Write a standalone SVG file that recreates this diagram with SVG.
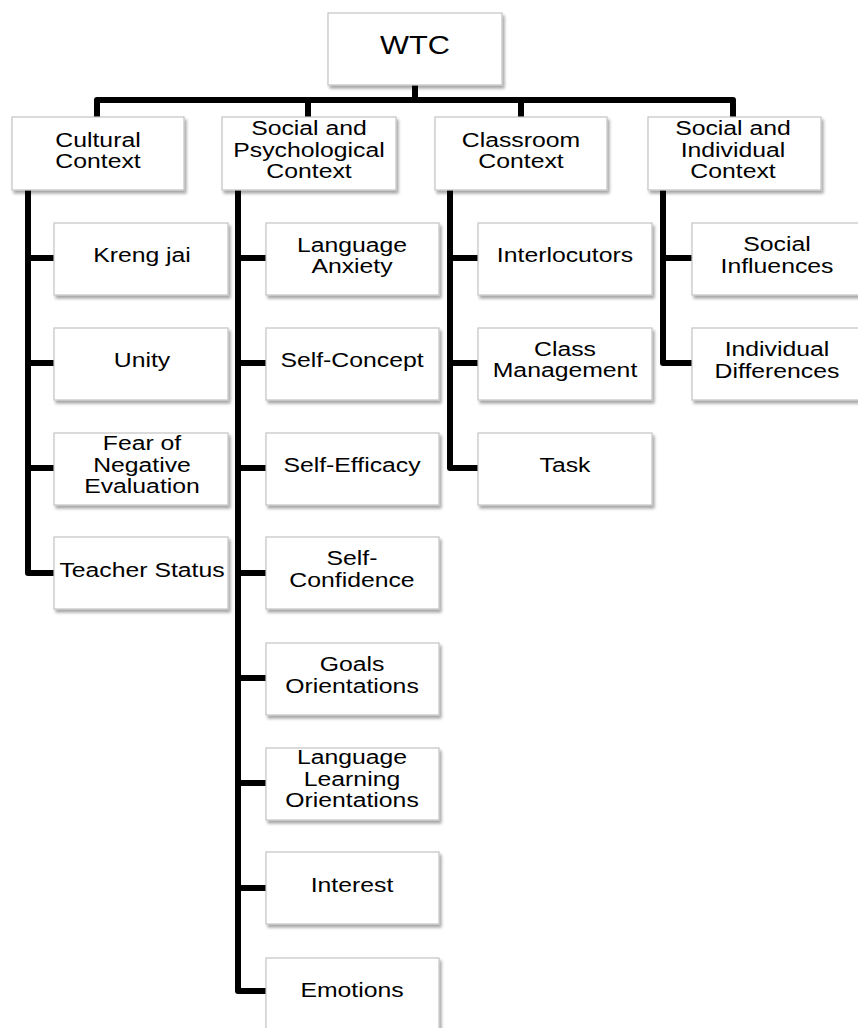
<svg xmlns="http://www.w3.org/2000/svg" width="858" height="1028" viewBox="0 0 858 1028">
<style>
.box{fill:#fff;stroke:#c4c4c4;stroke-width:1.2;filter:url(#sh)}
.t{font-family:"Liberation Sans",Arial,sans-serif;font-size:21px;fill:#000;text-anchor:middle}
.big{font-size:26.5px}
.ln{fill:none;stroke:#000;stroke-width:6;stroke-linejoin:round;stroke-linecap:butt}
</style>
<defs>
<filter id="sh" x="-10%" y="-10%" width="125%" height="135%">
<feDropShadow dx="2" dy="3" stdDeviation="1.8" flood-color="#000" flood-opacity="0.35"/>
</filter>
</defs>
<rect width="858" height="1028" fill="#fff"/>
<g id="connectors">
<path class="ln" d="M415,85 V100 M97,117 V100 H733 V117 M308,100 V117 M521,100 V117"/>
<path class="ln" d="M28,190 V573 H54 M28,258 H54 M28,363 H54 M28,468 H54"/>
<path class="ln" d="M238,190 V991 H266 M238,258 H266 M238,363 H266 M238,468 H266 M238,573 H266 M238,678 H266 M238,783 H266 M238,888 H266"/>
<path class="ln" d="M450,190 V468 H478 M450,258 H478 M450,363 H478"/>
<path class="ln" d="M663,190 V363 H692 M663,258 H692"/>
</g>
<g id="wtc"><rect class="box" x="328" y="13" width="174" height="72"/><text class="t big" transform="translate(415,0) scale(1.16,1)"><tspan x="0" y="54">WTC</tspan></text></g>
<g id="cultural"><rect class="box" x="12" y="117" width="172" height="73"/><text class="t" transform="translate(98,0) scale(1.18,1)"><tspan x="0" y="147">Cultural</tspan><tspan x="0" y="168">Context</tspan></text></g>
<g id="socpsy"><rect class="box" x="222" y="117" width="174" height="73"/><text class="t" transform="translate(309,0) scale(1.18,1)"><tspan x="0" y="135">Social and</tspan><tspan x="0" y="157">Psychological</tspan><tspan x="0" y="178">Context</tspan></text></g>
<g id="classroom"><rect class="box" x="435" y="117" width="172" height="73"/><text class="t" transform="translate(521,0) scale(1.18,1)"><tspan x="0" y="147">Classroom</tspan><tspan x="0" y="168">Context</tspan></text></g>
<g id="socind"><rect class="box" x="648" y="117" width="173" height="73"/><text class="t" transform="translate(733,0) scale(1.18,1)"><tspan x="0" y="135">Social and</tspan><tspan x="0" y="157">Individual</tspan><tspan x="0" y="178">Context</tspan></text></g>

<g id="krengjai"><rect class="box" x="54" y="223" width="174" height="72"/><text class="t" transform="translate(142,0) scale(1.18,1)"><tspan x="0" y="262">Kreng jai</tspan></text></g>
<g id="unity"><rect class="box" x="54" y="328" width="174" height="72"/><text class="t" transform="translate(142,0) scale(1.18,1)"><tspan x="0" y="367">Unity</tspan></text></g>
<g id="fear"><rect class="box" x="54" y="433" width="174" height="72"/><text class="t" transform="translate(142,0) scale(1.18,1)"><tspan x="0" y="450">Fear of</tspan><tspan x="0" y="472">Negative</tspan><tspan x="0" y="493">Evaluation</tspan></text></g>
<g id="teacher"><rect class="box" x="54" y="537" width="174" height="72"/><text class="t" transform="translate(142,0) scale(1.18,1)"><tspan x="0" y="577">Teacher Status</tspan></text></g>

<g id="anxiety"><rect class="box" x="266" y="223" width="173" height="72"/><text class="t" transform="translate(352,0) scale(1.18,1)"><tspan x="0" y="252">Language</tspan><tspan x="0" y="273">Anxiety</tspan></text></g>
<g id="selfconcept"><rect class="box" x="266" y="328" width="173" height="72"/><text class="t" transform="translate(352,0) scale(1.18,1)"><tspan x="0" y="367">Self-Concept</tspan></text></g>
<g id="selfefficacy"><rect class="box" x="266" y="433" width="173" height="72"/><text class="t" transform="translate(352,0) scale(1.18,1)"><tspan x="0" y="472">Self-Efficacy</tspan></text></g>
<g id="selfconfidence"><rect class="box" x="266" y="537" width="173" height="72"/><text class="t" transform="translate(352,0) scale(1.18,1)"><tspan x="0" y="565">Self-</tspan><tspan x="0" y="587">Confidence</tspan></text></g>
<g id="goals"><rect class="box" x="266" y="643" width="173" height="72"/><text class="t" transform="translate(352,0) scale(1.18,1)"><tspan x="0" y="671">Goals</tspan><tspan x="0" y="693">Orientations</tspan></text></g>
<g id="llo"><rect class="box" x="266" y="748" width="173" height="72"/><text class="t" transform="translate(352,0) scale(1.18,1)"><tspan x="0" y="764">Language</tspan><tspan x="0" y="786">Learning</tspan><tspan x="0" y="807">Orientations</tspan></text></g>
<g id="interest"><rect class="box" x="266" y="852" width="173" height="72"/><text class="t" transform="translate(352,0) scale(1.18,1)"><tspan x="0" y="892">Interest</tspan></text></g>
<g id="emotions"><rect class="box" x="266" y="958" width="173" height="72"/><text class="t" transform="translate(352,0) scale(1.18,1)"><tspan x="0" y="997">Emotions</tspan></text></g>

<g id="interlocutors"><rect class="box" x="478" y="223" width="174" height="72"/><text class="t" transform="translate(565,0) scale(1.18,1)"><tspan x="0" y="262">Interlocutors</tspan></text></g>
<g id="classmgmt"><rect class="box" x="478" y="328" width="174" height="72"/><text class="t" transform="translate(565,0) scale(1.18,1)"><tspan x="0" y="356">Class</tspan><tspan x="0" y="377">Management</tspan></text></g>
<g id="task"><rect class="box" x="478" y="433" width="174" height="72"/><text class="t" transform="translate(565,0) scale(1.18,1)"><tspan x="0" y="472">Task</tspan></text></g>

<g id="socialinf"><rect class="box" x="692" y="223" width="172" height="72"/><text class="t" transform="translate(777,0) scale(1.18,1)"><tspan x="0" y="251">Social</tspan><tspan x="0" y="273">Influences</tspan></text></g>
<g id="indiv"><rect class="box" x="692" y="328" width="172" height="72"/><text class="t" transform="translate(777,0) scale(1.18,1)"><tspan x="0" y="356">Individual</tspan><tspan x="0" y="378">Differences</tspan></text></g>
</svg>
